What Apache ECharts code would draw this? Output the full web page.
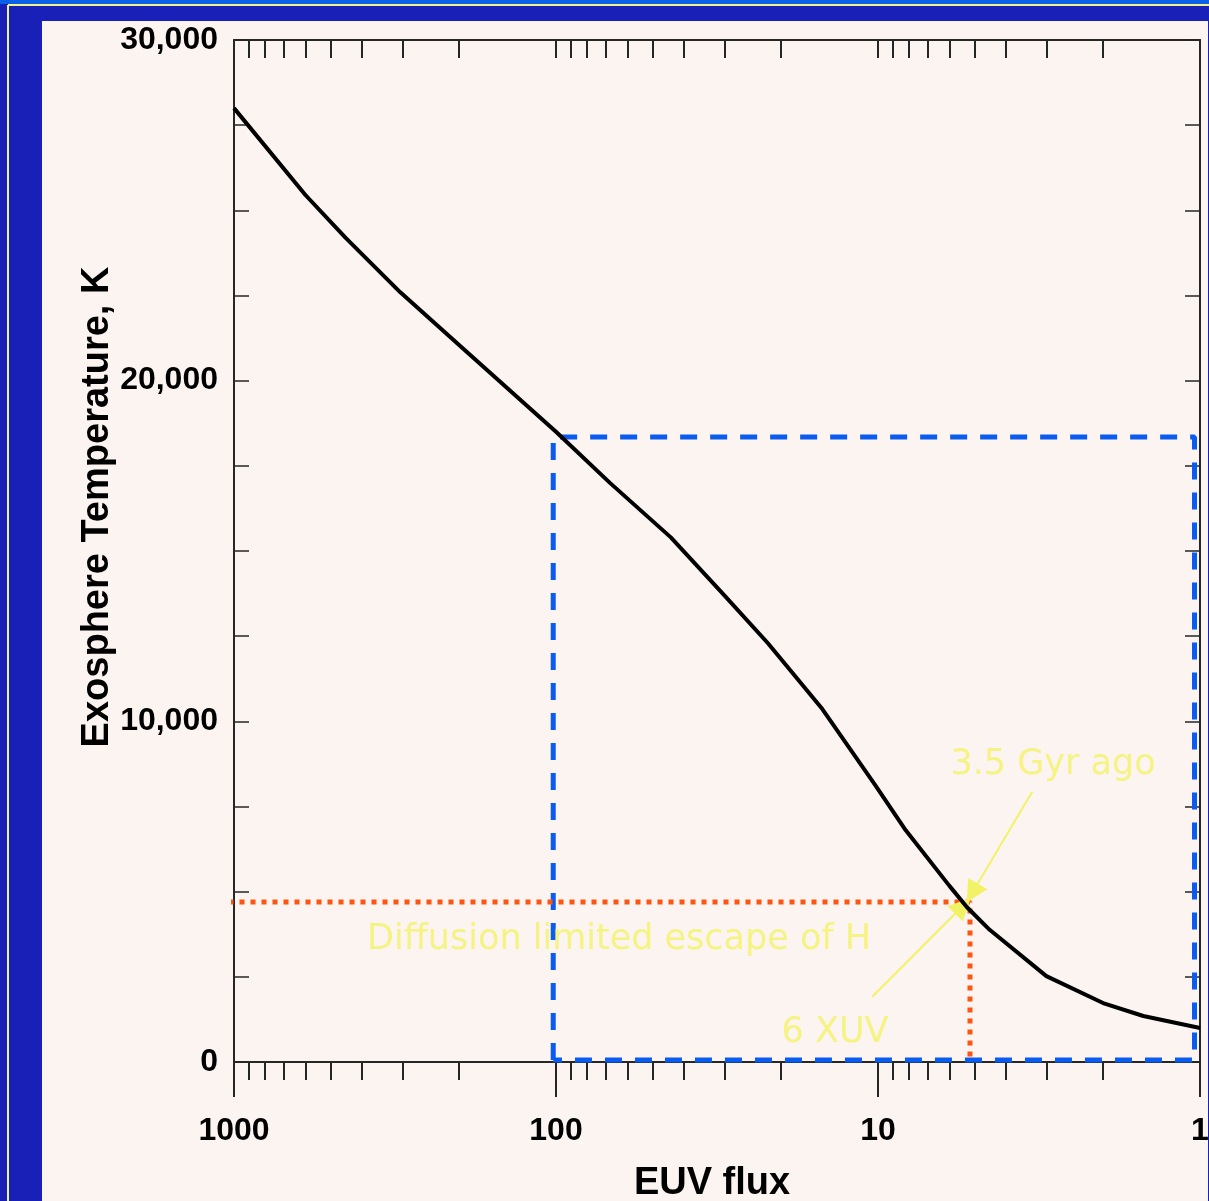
<!DOCTYPE html>
<html>
<head>
<meta charset="utf-8">
<script src="https://cdn.jsdelivr.net/npm/echarts@6/dist/echarts.min.js"></script>
<style>
  html, body { margin: 0; padding: 0; background: #1820b8; overflow: hidden; }
  .fr { position: absolute; }
  #top-bar { left: 0; top: 0; width: 1209px; height: 4px; background: #0a60e8; }
  #y-line-h { left: 8px; top: 4px; width: 1201px; height: 2px; background: #f2f28a; }
  #y-line-v { left: 7px; top: 5px; width: 2px; height: 1196px; background: #f2f28a; }
  #paper { left: 42px; top: 21px; width: 1166px; height: 1180px; background: #fcf4f1; }
  #chart { position: absolute; left: 0; top: 0; width: 1209px; height: 1201px; }
</style>
</head>
<body>
<div class="fr" id="top-bar"></div>
<div class="fr" id="y-line-h"></div>
<div class="fr" id="y-line-v"></div>
<div class="fr" id="paper"></div>
<div id="chart"></div>
<script>
  // exosphere temperature vs EUV flux
  var flux = [1000, 600, 450, 305, 200, 100, 68, 44, 30, 22, 15, 10.2, 8.2, 6, 5.3, 4.5, 3, 2, 1.5, 1]
  var temp = [28000, 25450, 24190, 22600, 21050, 18500, 17000, 15400, 13700, 12300, 10400, 8130, 6800, 5170, 4550, 3880, 2520, 1730, 1350, 1000]

  // blue dashed box
  var boxFlux = [102, 102, 1.04, 1.04, 102]
  var boxTemp = [60, 18350, 18350, 60, 60]

  // orange dotted guide (diffusion limit)
  var guideFlux = [1040, 5.18, 5.18]
  var guideTemp = [4700, 4700, 100]

  // tick labels
  var xMinorTicks = [1, 2, 3, 4, 5, 6, 7, 8, 9, 10, 20, 30, 40, 50, 60, 70, 80, 90, 100, 200, 300, 400, 500, 600, 700, 800, 900, 1000]
  var xMajorTicks = [1, 10, 100, 1000]
  var yLabelTicks = [0, 10000, 20000, 30000]

  // annotations
  var notes = [
    { text: '3.5 Gyr ago', flux: 2.86, temp: 8720 },
    { text: 'Diffusion limited escape of H', flux: 63.7, temp: 3580 },
    { text: '6 XUV', flux: 13.6, temp: 850 }
  ]
  var arrows = [
    [[3.32, 7930], [5.1, 4960]],
    [[10.44, 1910], [5.45, 4580]]
  ]

  var axisColor = '#262626'
  var yellow = '#f2f266'
  var boldFont = '"Liberation Sans", Arial, sans-serif'

  function zip(a, b) {
    return a.map(function (v, i) { return [v, b[i]] })
  }

  var chart = echarts.init(document.getElementById('chart'), null, { width: 1209, height: 1201 })

  var logAxis = {
    type: 'log',
    logBase: 10,
    min: 1,
    max: 1000,
    inverse: true,
    splitLine: { show: false },
    axisLine: { show: true, lineStyle: { color: axisColor, width: 2 } }
  }

  var option = {
    animation: false,
    backgroundColor: 'transparent',
    grid: { left: 234, top: 40, right: 9, bottom: 139, containLabel: false, outerBoundsMode: 'none' },
    xAxis: [
      Object.assign({}, logAxis, {
        position: 'bottom',
        axisTick: { show: true, inside: false, length: 18, customValues: xMinorTicks,
          lineStyle: { color: axisColor, width: 2 } },
        axisLabel: { show: false }
      }),
      Object.assign({}, logAxis, {
        position: 'bottom',
        axisTick: { show: true, inside: false, length: 35, customValues: xMajorTicks,
          lineStyle: { color: axisColor, width: 2 } },
        axisLabel: {
          show: true, customValues: xMajorTicks, margin: 53,
          fontFamily: boldFont, fontWeight: 'bold', fontSize: 32, color: '#000',
          formatter: function (v) { return String(v) }
        },
        name: 'EUV flux',
        nameLocation: 'middle',
        nameGap: 103,
        nameMoveOverlap: false,
        nameTextStyle: { fontFamily: boldFont, fontWeight: 'bold', fontSize: 38, color: '#000', padding: [0, 10, 0, 0] }
      }),
      Object.assign({}, logAxis, {
        position: 'top',
        axisTick: { show: true, inside: true, length: 18, customValues: xMinorTicks,
          lineStyle: { color: axisColor, width: 2 } },
        axisLabel: { show: false }
      })
    ],
    yAxis: [
      {
        type: 'value',
        position: 'left',
        min: 0,
        max: 30000,
        interval: 2500,
        splitLine: { show: false },
        axisLine: { show: true, lineStyle: { color: axisColor, width: 2 } },
        axisTick: { show: true, inside: true, length: 15, lineStyle: { color: axisColor, width: 1.5 } },
        axisLabel: {
          customValues: yLabelTicks,
          margin: 16,
          fontFamily: boldFont, fontWeight: 'bold', fontSize: 32, color: '#000',
          formatter: function (v) { return Number(v).toLocaleString('en-US') }
        },
        name: 'Exosphere Temperature, K',
        nameLocation: 'middle',
        nameGap: 117,
        nameMoveOverlap: false,
        nameTextStyle: { fontFamily: boldFont, fontWeight: 'bold', fontSize: 38, color: '#000', padding: [0, 0, 0, 88] }
      },
      {
        type: 'value',
        position: 'right',
        min: 0,
        max: 30000,
        interval: 2500,
        splitLine: { show: false },
        axisLine: { show: true, lineStyle: { color: axisColor, width: 2 } },
        axisTick: { show: true, inside: true, length: 15, lineStyle: { color: axisColor, width: 1.5 } },
        axisLabel: { show: false }
      }
    ],
    series: [
      {
        name: 'Exosphere temperature',
        type: 'line',
        data: zip(flux, temp),
        symbol: 'none',
        lineStyle: { color: '#000', width: 4 },
        z: 5
      },
      {
        name: 'box',
        type: 'line',
        data: zip(boxFlux, boxTemp),
        symbol: 'none',
        clip: false,
        lineStyle: { color: '#0a5cf0', width: 5, type: [17, 13] },
        z: 4
      },
      {
        name: 'guide',
        type: 'line',
        data: zip(guideFlux, guideTemp),
        symbol: 'none',
        clip: false,
        lineStyle: { color: '#ff5512', width: 5, type: [5, 6] },
        z: 4
      },
      {
        name: 'notes',
        type: 'scatter',
        data: notes.map(function (n) { return { value: [n.flux, n.temp], name: n.text } }),
        symbolSize: 0,
        silent: true,
        label: {
          show: true,
          position: 'inside',
          formatter: '{b}',
          color: yellow,
          fontFamily: '"DejaVu Sans", sans-serif',
          fontSize: 35
        },
        markLine: {
          silent: true,
          symbol: ['none', 'triangle'],
          symbolSize: 22,
          label: { show: false },
          lineStyle: { color: yellow, width: 2, type: 'solid' },
          itemStyle: { color: yellow },
          data: arrows.map(function (a) { return [{ coord: a[0] }, { coord: a[1] }] })
        },
        z: 6
      }
    ]
  }

  chart.setOption(option)
</script>
</body>
</html>
